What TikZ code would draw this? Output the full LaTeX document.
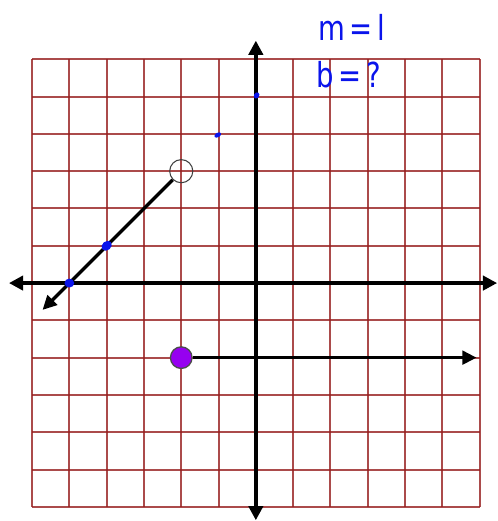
\documentclass[tikz,border=0pt]{standalone}
\usepackage{fontspec}
\setmainfont{DejaVu Sans}
\usetikzlibrary{arrows.meta,shapes.geometric}
\definecolor{gridred}{RGB}{150,30,30}
\definecolor{inkblue}{RGB}{10,20,235}
\definecolor{dotpurple}{RGB}{150,0,240}
\tikzset{
  gridline/.style={draw=gridred, line width=1.5pt, opacity=0.8},
  axisline/.style={draw=black, line width=2.8pt, -{Triangle[length=0.38cm,width=0.38cm]}},
  rayline/.style={draw=black, line width=2.6pt, -{Triangle[length=0.38cm,width=0.36cm]}},
  bluedot/.style={fill=inkblue, ellipse, inner sep=0pt, minimum width=0.2cm, minimum height=0.2cm},
  hand/.style={text=inkblue, font=\fontsize{21}{24}\selectfont, inner sep=0pt}
}
\begin{document}
\begin{tikzpicture}[x=1cm,y=1cm]
\useasboundingbox (-6.86,-6.38) rectangle (6.48,7.59);
% grid
\foreach \i in {-6,...,6} {
  \draw[gridline] (\i,-6) -- (\i,6);
  \draw[gridline] (-6,\i) -- (6,\i);
}
% axes
\coordinate (xl) at (-6.62,0);
\coordinate (xr) at (6.47,0);
\coordinate (yt) at (0,6.5);
\coordinate (yb) at (0,-6.36);
\coordinate (o) at (0,0);
\draw[axisline] (o) -- (xr);
\draw[axisline] (o) -- (xl);
\draw[axisline] (o) -- (yt);
\draw[axisline] (o) -- (yb);
% open circle and ray with slope 1
\node[circle, draw=black!75, line width=0.8pt, minimum size=0.62cm, inner sep=0pt] (open) at (-2,3) {};
\coordinate (tip1) at (-5.72,-0.72);
\draw[rayline] (open) -- (tip1);
\node[bluedot, minimum width=0.3cm, minimum height=0.24cm, rotate=40] (p1) at (-4,1) {};
\node[bluedot, minimum width=0.26cm, minimum height=0.24cm] (p2) at (-5,0) {};
% small blue marks
\node[bluedot, minimum width=0.2cm, minimum height=0.12cm, rotate=30] (p3) at (-1.02,3.97) {};
\node[bluedot, minimum width=0.18cm, minimum height=0.14cm, rotate=60] (p4) at (0.02,5.03) {};
% closed circle and horizontal ray
\node[circle, fill=dotpurple, draw=black!70, line width=1pt, minimum size=0.58cm, inner sep=0pt] (closed) at (-2,-2) {};
\coordinate (tip2) at (5.92,-2);
\draw[rayline] (closed) -- (tip2);
% handwritten text
\node[hand, anchor=west] (m) at (1.66,6.85) {\scalebox{1}[1.25]{m\,=\,l}};
\node[hand, anchor=west] (b) at (1.62,5.6) {\scalebox{1}[1.25]{b\,=\,?}};
\end{tikzpicture}
\end{document}
